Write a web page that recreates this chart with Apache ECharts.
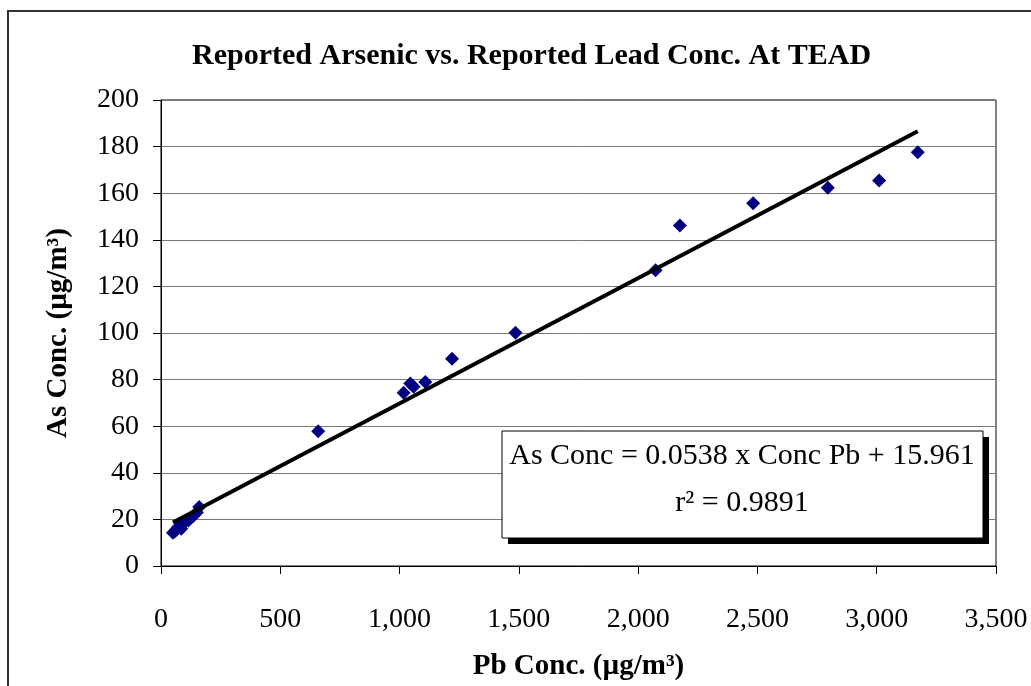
<!DOCTYPE html>
<html>
<head>
<meta charset="utf-8">
<script src="https://cdn.jsdelivr.net/npm/echarts@6/dist/echarts.min.js"></script>
<style>
  html, body { margin: 0; padding: 0; background: #fff; }
  #chart { width: 1031px; height: 686px; }
</style>
</head>
<body>
<div id="chart"></div>
<script>
// Pb vs As concentrations
var pbConc = [50, 60, 70, 85, 95, 115, 135, 150, 160, 659, 1017, 1045, 1059, 1108, 1220, 1486, 2073, 2175, 2482, 2795, 3010, 3172];
var asConc = [14.3, 15.0, 16.5, 16.0, 18.5, 19.5, 21.5, 23.0, 25.3, 57.8, 74.4, 78.3, 76.9, 79.0, 88.9, 100.1, 126.9, 146.1, 155.7, 162.3, 165.5, 177.6];
var slope = 0.0538;
var intercept = 15.961;
var xTicks = [0, 500, 1000, 1500, 2000, 2500, 3000, 3500];
var yTicks = [0, 20, 40, 60, 80, 100, 120, 140, 160, 180, 200];

var font = '"Liberation Serif", "Times New Roman", serif';

var points = pbConc.map(function (x, i) { return [x, asConc[i]]; });
var xMin = Math.min.apply(null, pbConc);
var xMax = Math.max.apply(null, pbConc);
var fit = [[xMin, slope * xMin + intercept], [xMax, slope * xMax + intercept]];

var chart = echarts.init(document.getElementById('chart'));

var option = {
    animation: false,
    backgroundColor: '#fff',
    title: {
        text: 'Reported Arsenic vs. Reported Lead Conc. At TEAD',
        left: 187,
        top: 36,
        textStyle: { fontFamily: font, fontSize: 30, fontWeight: 'bold', color: '#000' }
    },
    grid: {
        left: 161, right: 35, top: 100, bottom: 112,
        show: true, borderColor: '#000', borderWidth: 1, backgroundColor: '#fff'
    },
    xAxis: {
        type: 'value',
        min: xTicks[0], max: xTicks[xTicks.length - 1], interval: 500,
        name: 'Pb Conc. (µg/m³)',
        nameLocation: 'middle',
        nameGap: 86,
        nameTextStyle: { fontFamily: font, fontSize: 29, fontWeight: 'bold', color: '#000' },
        axisLine: { lineStyle: { color: '#000', width: 1 } },
        axisTick: { show: true, inside: false, length: 8, lineStyle: { color: '#000' } },
        axisLabel: {
            margin: 40,
            fontFamily: font, fontSize: 28, color: '#000',
            formatter: function (v) { return v.toLocaleString('en-US'); }
        },
        splitLine: { show: false }
    },
    yAxis: {
        type: 'value',
        min: yTicks[0], max: yTicks[yTicks.length - 1], interval: 20,
        name: 'As Conc. (µg/m³)',
        nameLocation: 'middle',
        nameGap: 88,
        nameTextStyle: { fontFamily: font, fontSize: 29, fontWeight: 'bold', color: '#000' },
        axisLine: { show: true, lineStyle: { color: '#000', width: 1 } },
        axisTick: { show: true, inside: false, length: 8, lineStyle: { color: '#000' } },
        axisLabel: { margin: 22, fontFamily: font, fontSize: 28, color: '#000' },
        splitLine: { show: true, lineStyle: { color: '#777', width: 1 } }
    },
    series: [
        {
            type: 'scatter',
            data: points,
            symbol: 'diamond',
            symbolSize: 14,
            itemStyle: { color: '#000080', opacity: 1 },
            z: 2
        },
        {
            type: 'line',
            data: fit,
            showSymbol: false,
            symbol: 'none',
            lineStyle: { color: '#000', width: 4 },
            z: 3
        }
    ],
    graphic: [
        {
            type: 'rect',
            shape: { x: 8, y: 11, width: 1040, height: 700 },
            style: { fill: 'none', stroke: '#333', lineWidth: 2 },
            z: 100
        },
        {
            type: 'rect',
            shape: { x: 508, y: 437, width: 481, height: 107 },
            style: { fill: '#000' },
            z: 100
        },
        {
            type: 'rect',
            shape: { x: 502, y: 431, width: 481, height: 107 },
            style: { fill: '#fff', stroke: '#000', lineWidth: 1 },
            z: 101
        },
        {
            type: 'text',
            x: 742, y: 456,
            style: {
                text: 'As Conc = 0.0538 x Conc Pb + 15.961',
                font: '30px ' + font,
                fill: '#000',
                textAlign: 'center',
                textVerticalAlign: 'middle'
            },
            z: 102
        },
        {
            type: 'text',
            x: 742, y: 503,
            style: {
                text: 'r² = 0.9891',
                font: '30px ' + font,
                fill: '#000',
                textAlign: 'center',
                textVerticalAlign: 'middle'
            },
            z: 102
        }
    ]
};

chart.setOption(option);
</script>
</body>
</html>
